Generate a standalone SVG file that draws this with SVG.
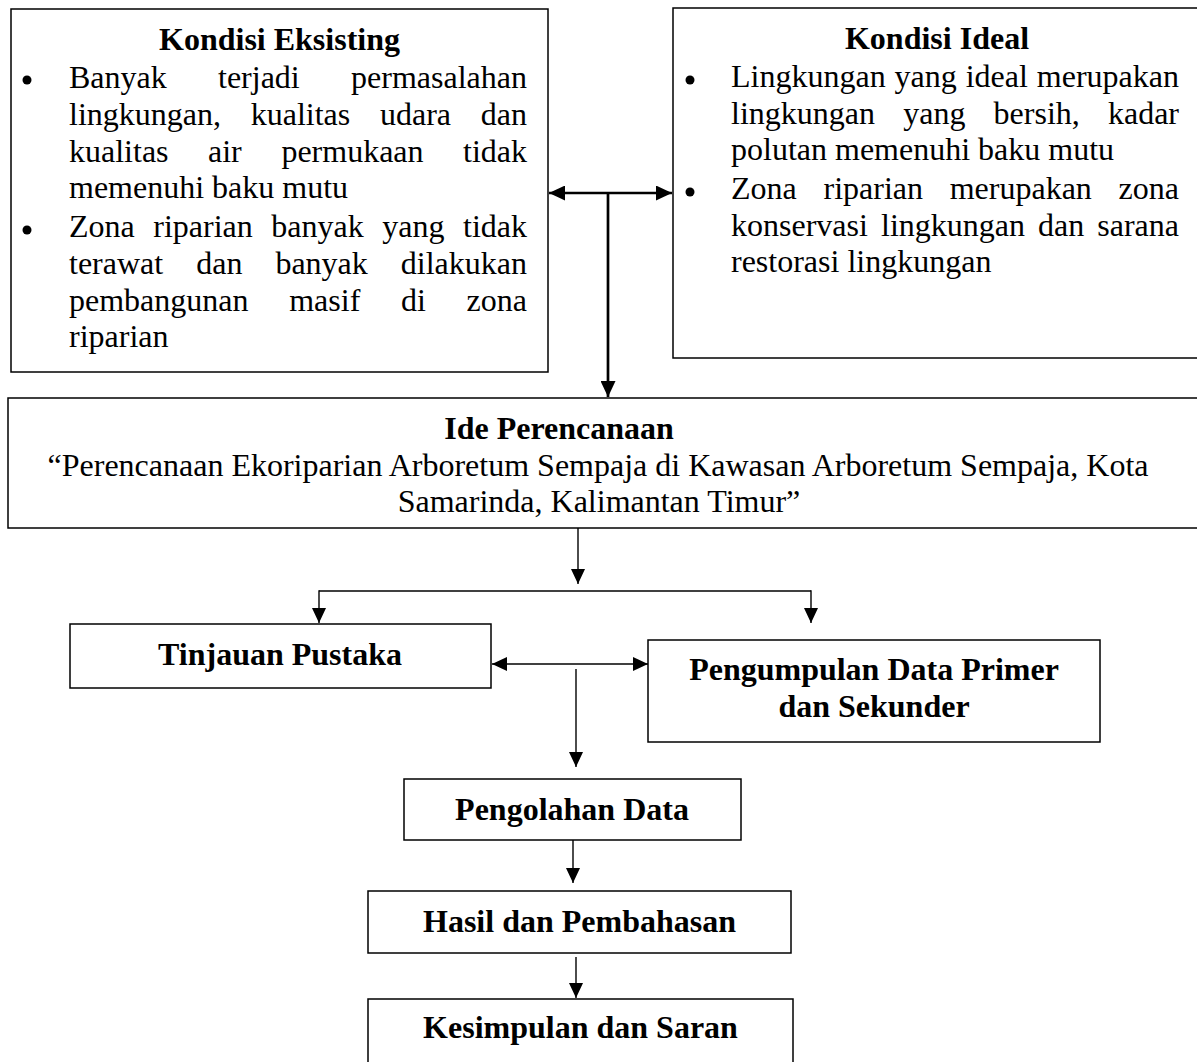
<svg xmlns="http://www.w3.org/2000/svg" width="1197" height="1062" viewBox="0 0 1197 1062" font-family="'Liberation Serif', 'Times New Roman', Times, serif">
<defs>
<style>
.box{fill:#fff;stroke:#000;stroke-width:1.5}
.t{font-family:'Liberation Serif','Times New Roman',Times,serif;font-size:32px;fill:#000}
.b{font-weight:bold}
.m{text-anchor:middle}
.c{fill:none;stroke:#000;stroke-width:1.4}
.ct{fill:none;stroke:#000;stroke-width:2.7}
.dot{fill:#000}
</style>
<marker id="ah" viewBox="0 0 15 14" refX="15" refY="7" markerWidth="15" markerHeight="14" markerUnits="userSpaceOnUse" orient="auto-start-reverse">
<path d="M0,0 L15,7 L0,14 Z" fill="#000"/>
</marker>
<marker id="ahb" viewBox="0 0 16 15" refX="16" refY="7.5" markerWidth="16" markerHeight="15" markerUnits="userSpaceOnUse" orient="auto-start-reverse">
<path d="M0,0 L16,7.5 L0,15 Z" fill="#000"/>
</marker>
</defs>

<g id="connectors">
<line class="ct" x1="549" y1="193" x2="672" y2="193" marker-start="url(#ahb)" marker-end="url(#ahb)"/>
<line class="ct" x1="608" y1="193" x2="608" y2="397" marker-end="url(#ahb)"/>
<line class="c" x1="578" y1="528" x2="578" y2="584" marker-end="url(#ah)"/>
<line class="c" x1="319" y1="591" x2="811" y2="591"/>
<line class="c" x1="319" y1="590.3" x2="319" y2="623" marker-end="url(#ah)"/>
<line class="c" x1="811" y1="590.3" x2="811" y2="623" marker-end="url(#ah)"/>
<line class="c" x1="492" y1="664" x2="648" y2="664" marker-start="url(#ah)" marker-end="url(#ah)"/>
<line class="c" x1="576" y1="669" x2="576" y2="767" marker-end="url(#ah)"/>
<line class="c" x1="573" y1="840" x2="573" y2="883" marker-end="url(#ah)"/>
<line class="c" x1="576" y1="957" x2="576" y2="998" marker-end="url(#ah)"/>
</g>

<g id="kondisi-eksisting">
<rect class="box" x="11" y="9" width="537" height="363"/>
<text class="t b m" x="279.5" y="50">Kondisi Eksisting</text>
<circle class="dot" cx="27" cy="80" r="4.5"/>
<text class="t" y="88"><tspan x="69">Banyak</tspan><tspan x="218">terjadi</tspan><tspan x="527" text-anchor="end">permasalahan</tspan></text>
<text class="t" y="125"><tspan x="69">lingkungan,</tspan><tspan x="250.7">kualitas</tspan><tspan x="380">udara</tspan><tspan x="527" text-anchor="end">dan</tspan></text>
<text class="t" y="162"><tspan x="69">kualitas</tspan><tspan x="208">air</tspan><tspan x="281.4">permukaan</tspan><tspan x="527" text-anchor="end">tidak</tspan></text>
<text class="t" x="69" y="198">memenuhi baku mutu</text>
<circle class="dot" cx="27" cy="230" r="4.5"/>
<text class="t" y="237"><tspan x="69">Zona</tspan><tspan x="153.3">riparian</tspan><tspan x="271.3">banyak</tspan><tspan x="382.2">yang</tspan><tspan x="527" text-anchor="end">tidak</tspan></text>
<text class="t" y="274"><tspan x="69">terawat</tspan><tspan x="196.2">dan</tspan><tspan x="275.4">banyak</tspan><tspan x="527" text-anchor="end">dilakukan</tspan></text>
<text class="t" y="311"><tspan x="69">pembangunan</tspan><tspan x="289.2">masif</tspan><tspan x="401">di</tspan><tspan x="527" text-anchor="end">zona</tspan></text>
<text class="t" x="69" y="347">riparian</text>
</g>

<g id="kondisi-ideal">
<rect class="box" x="673" y="8" width="540" height="350"/>
<text class="t b m" x="937" y="49">Kondisi Ideal</text>
<circle class="dot" cx="690" cy="80" r="4.5"/>
<text class="t" y="87"><tspan x="731">Lingkungan</tspan><tspan x="894.6">yang</tspan><tspan x="965.7">ideal</tspan><tspan x="1179" text-anchor="end">merupakan</tspan></text>
<text class="t" y="124"><tspan x="731">lingkungan</tspan><tspan x="903.2">yang</tspan><tspan x="993.6">bersih,</tspan><tspan x="1179" text-anchor="end">kadar</tspan></text>
<text class="t" x="731" y="160">polutan memenuhi baku mutu</text>
<circle class="dot" cx="690" cy="192" r="4.5"/>
<text class="t" y="199"><tspan x="731">Zona</tspan><tspan x="823.5">riparian</tspan><tspan x="949.7">merupakan</tspan><tspan x="1179" text-anchor="end">zona</tspan></text>
<text class="t" y="236"><tspan x="731">konservasi</tspan><tspan x="881">lingkungan</tspan><tspan x="1038">dan</tspan><tspan x="1179" text-anchor="end">sarana</tspan></text>
<text class="t" x="731" y="272">restorasi lingkungan</text>
</g>

<g id="ide-perencanaan">
<rect class="box" x="8" y="398" width="1205" height="130"/>
<text class="t b m" x="559" y="439">Ide Perencanaan</text>
<text class="t m" x="598" y="476">“Perencanaan Ekoriparian Arboretum Sempaja di Kawasan Arboretum Sempaja, Kota</text>
<text class="t m" x="599" y="512">Samarinda, Kalimantan Timur”</text>
</g>

<g id="tinjauan-pustaka">
<rect class="box" x="70" y="624" width="421" height="64"/>
<text class="t b m" x="280" y="665">Tinjauan Pustaka</text>
</g>

<g id="pengumpulan-data">
<rect class="box" x="648" y="640" width="452" height="102"/>
<text class="t b m" x="874" y="680">Pengumpulan Data Primer</text>
<text class="t b m" x="874" y="717">dan Sekunder</text>
</g>

<g id="pengolahan-data">
<rect class="box" x="404" y="779" width="337" height="61"/>
<text class="t b m" x="572" y="820">Pengolahan Data</text>
</g>

<g id="hasil-pembahasan">
<rect class="box" x="368" y="891" width="423" height="62"/>
<text class="t b m" x="579.5" y="932">Hasil dan Pembahasan</text>
</g>

<g id="kesimpulan-saran">
<rect class="box" x="368" y="999" width="425" height="80"/>
<text class="t b m" x="580.5" y="1038">Kesimpulan dan Saran</text>
</g>
</svg>
